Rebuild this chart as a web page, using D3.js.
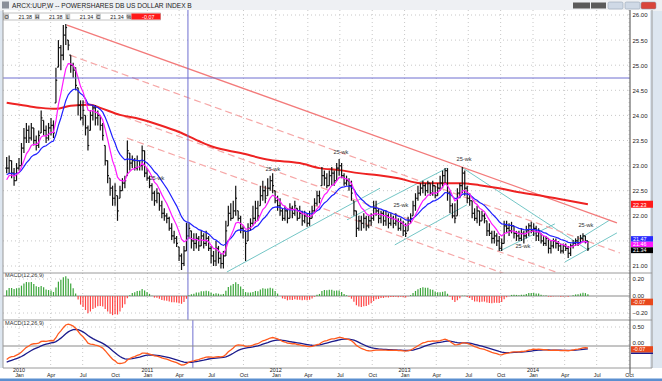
<!DOCTYPE html>
<html>
<head>
<meta charset="utf-8">
<script src="https://cdn.jsdelivr.net/npm/d3@7"></script>
<style>
  body { margin: 0; background: #fff; overflow: hidden; }
  svg { display: block; font-family: "Liberation Sans", Arial, sans-serif; }
</style>
</head>
<body>
<svg id="chart" width="662" height="381"></svg>
<script>
// weekly bars, first bar = week ending 27 Nov 2009
const startDate = new Date(2009, 10, 27);

const closes = [
  22.95, 23.10, 22.85, 22.70, 22.95, 23.00, 23.35, 23.55, 23.70, 23.55,
  23.75, 23.50, 23.40, 23.60, 23.95, 23.70, 23.55, 23.75, 23.80, 23.65,
  24.70, 25.35, 25.20, 25.60, 25.75, 25.40, 25.00, 24.90, 24.60, 24.20,
  23.95, 24.10, 23.75, 23.40, 24.00, 24.15, 23.95, 24.00, 23.80, 23.60,
  23.10, 22.80, 22.55, 22.35, 22.50, 22.10, 22.50, 22.65, 22.70, 23.30,
  23.05, 23.10, 22.95, 23.10, 23.00, 23.30, 22.85, 22.75, 22.60, 22.45,
  22.30, 22.45, 22.20, 22.05, 22.00, 21.95, 21.75, 21.60, 21.55, 21.45,
  21.20, 21.05, 21.30, 21.60, 21.75, 21.50, 21.45, 21.55, 21.40, 21.60,
  21.45, 21.55, 21.35, 21.20, 21.10, 21.35, 21.15, 21.05, 21.20, 21.70,
  22.05, 21.95, 22.10, 22.35, 21.95, 21.75, 21.70, 21.45, 21.75, 21.85,
  21.95, 22.15, 22.00, 22.40, 22.50, 22.35, 22.55, 22.70, 22.60, 22.30,
  22.20, 22.10, 21.95, 22.10, 21.95, 22.15, 22.05, 22.20, 21.95, 22.05,
  21.90, 22.00, 21.85, 21.95, 22.10, 22.25, 22.40, 22.35, 22.80, 22.75,
  22.60, 22.80, 22.85, 22.70, 22.95, 23.00, 22.80, 22.65, 22.70, 22.60,
  22.45, 22.10, 21.75, 21.90, 21.85, 21.95, 21.80, 21.90, 21.95, 22.15,
  22.10, 21.95, 22.05, 21.90, 22.00, 21.85, 21.95, 21.85, 21.90, 21.75,
  21.85, 21.70, 21.65, 21.90, 21.95, 22.20, 22.35, 22.45, 22.55, 22.60,
  22.50, 22.65, 22.45, 22.60, 22.40, 22.55, 22.65, 22.80, 22.90, 22.45,
  22.20, 22.00, 21.95, 22.45, 22.60, 22.85, 22.55, 22.35, 22.30, 22.05,
  21.95, 22.10, 21.90, 22.00, 21.95, 21.70, 21.65, 21.55, 21.60, 21.50,
  21.35, 21.45, 21.80, 21.75, 21.70, 21.80, 21.65, 21.60, 21.55, 21.65,
  21.60, 21.70, 21.80, 21.70, 21.75, 21.60, 21.70, 21.50, 21.45, 21.55,
  21.35, 21.40, 21.50, 21.45, 21.40, 21.30, 21.40, 21.35, 21.25, 21.40,
  21.45, 21.50, 21.45, 21.55, 21.60, 21.50, 21.34
];
const highs = [
  23.17, 23.20, 23.10, 22.95, 23.05, 23.15, 23.45, 23.75, 23.85, 23.80,
  23.85, 23.75, 23.60, 23.70, 24.10, 23.90, 23.80, 23.85, 23.95, 23.90,
  24.95, 25.50, 25.40, 25.80, 25.82, 25.50, 25.20, 25.05, 24.96, 24.55,
  24.30, 24.30, 24.00, 23.80, 24.10, 24.20, 24.20, 24.10, 24.00, 23.85,
  23.40, 23.10, 22.75, 22.60, 22.65, 22.40, 22.60, 22.75, 22.80, 23.50,
  23.25, 23.20, 23.15, 23.20, 23.10, 23.40, 23.30, 22.95, 22.80, 22.65,
  22.50, 22.55, 22.45, 22.30, 22.15, 22.05, 21.98, 21.85, 21.70, 21.60,
  21.38, 21.25, 21.40, 21.86, 21.85, 21.70, 21.65, 21.65, 21.60, 21.70,
  21.65, 21.70, 21.60, 21.40, 21.30, 21.50, 21.40, 21.25, 21.30, 21.90,
  22.20, 22.25, 22.30, 22.60, 22.10, 22.00, 21.80, 21.70, 21.85, 21.95,
  22.20, 22.30, 22.30, 22.60, 22.70, 22.60, 22.75, 22.80, 22.85, 22.50,
  22.40, 22.35, 22.15, 22.20, 22.15, 22.25, 22.20, 22.30, 22.15, 22.20,
  22.10, 22.10, 22.05, 22.10, 22.20, 22.35, 22.50, 22.50, 22.97, 22.90,
  22.85, 22.90, 22.97, 22.90, 23.05, 23.13, 23.05, 22.85, 22.80, 22.75,
  22.70, 22.30, 22.10, 22.00, 22.00, 22.05, 22.00, 22.00, 22.05, 22.30,
  22.30, 22.15, 22.10, 22.10, 22.10, 22.05, 22.05, 22.00, 22.05, 21.95,
  21.95, 21.90, 21.85, 21.98, 22.05, 22.30, 22.45, 22.60, 22.65, 22.70,
  22.65, 22.70, 22.65, 22.70, 22.60, 22.65, 22.80, 22.90, 22.95, 22.95,
  22.50, 22.25, 22.25, 22.55, 22.65, 22.97, 22.90, 22.60, 22.45, 22.30,
  22.15, 22.20, 22.10, 22.10, 22.05, 21.90, 21.85, 21.70, 21.70, 21.65,
  21.60, 21.55, 21.90, 21.90, 21.85, 21.88, 21.80, 21.70, 21.70, 21.75,
  21.70, 21.80, 21.85, 21.88, 21.85, 21.80, 21.75, 21.65, 21.60, 21.60,
  21.55, 21.50, 21.55, 21.55, 21.50, 21.45, 21.45, 21.45, 21.40, 21.45,
  21.52, 21.55, 21.60, 21.62, 21.65, 21.60, 21.50
];
const lows = [
  22.85, 22.85, 22.75, 22.60, 22.70, 22.90, 23.00, 23.25, 23.45, 23.45,
  23.50, 23.40, 23.30, 23.35, 23.65, 23.60, 23.45, 23.50, 23.60, 23.55,
  24.25, 24.96, 24.90, 25.10, 25.40, 25.30, 24.85, 24.75, 24.50, 24.00,
  23.90, 23.80, 23.60, 23.30, 23.70, 23.90, 23.80, 23.80, 23.70, 23.50,
  23.00, 22.65, 22.40, 22.20, 22.20, 21.90, 22.35, 22.50, 22.55, 22.80,
  22.90, 22.95, 22.90, 22.90, 22.90, 22.90, 22.77, 22.70, 22.55, 22.30,
  22.20, 22.25, 22.10, 21.95, 21.90, 21.85, 21.70, 21.52, 21.45, 21.38,
  21.10, 20.92, 21.00, 21.30, 21.55, 21.35, 21.30, 21.35, 21.30, 21.40,
  21.35, 21.40, 21.30, 21.05, 21.00, 21.00, 21.05, 20.95, 20.95, 21.20,
  21.80, 21.90, 21.95, 22.00, 21.90, 21.65, 21.55, 21.10, 21.50, 21.70,
  21.80, 21.85, 21.90, 22.20, 22.30, 22.25, 22.40, 22.50, 22.45, 22.25,
  22.10, 22.00, 21.90, 21.90, 21.85, 21.95, 21.95, 22.00, 21.90, 21.95,
  21.80, 21.85, 21.78, 21.80, 21.95, 22.05, 22.20, 22.25, 22.60, 22.60,
  22.55, 22.60, 22.60, 22.60, 22.70, 22.80, 22.75, 22.60, 22.60, 22.50,
  22.30, 22.00, 21.58, 21.70, 21.70, 21.75, 21.70, 21.75, 21.80, 21.90,
  22.00, 21.85, 21.85, 21.80, 21.80, 21.75, 21.80, 21.75, 21.80, 21.70,
  21.70, 21.60, 21.58, 21.70, 21.85, 22.00, 22.10, 22.30, 22.40, 22.45,
  22.40, 22.45, 22.40, 22.40, 22.35, 22.40, 22.50, 22.55, 22.65, 22.30,
  22.05, 21.95, 21.85, 22.00, 22.35, 22.45, 22.40, 22.25, 22.20, 21.95,
  21.90, 21.85, 21.80, 21.90, 21.85, 21.60, 21.60, 21.45, 21.45, 21.40,
  21.30, 21.30, 21.45, 21.65, 21.60, 21.65, 21.55, 21.50, 21.50, 21.50,
  21.45, 21.55, 21.60, 21.65, 21.60, 21.50, 21.50, 21.45, 21.40, 21.40,
  21.25, 21.25, 21.35, 21.35, 21.30, 21.25, 21.25, 21.30, 21.16, 21.20,
  21.35, 21.40, 21.40, 21.45, 21.50, 21.45, 21.30
];

// long (red) moving average: week index -> value
const longMaWeek  = [0, 8, 14, 20, 26, 34, 38, 46, 54, 62, 70, 78, 84, 95, 107,
                     119, 127, 135, 143, 151, 159, 168, 176, 184, 192, 200, 208, 216, 225, 236];
const longMaValue = [24.25, 24.19, 24.15, 24.13, 24.19, 24.21, 24.15, 24.01, 23.93, 23.81, 23.67,
                     23.49, 23.37, 23.25, 23.11, 23.05, 22.95, 22.91, 22.85, 22.81, 22.75, 22.65,
                     22.65, 22.65, 22.61, 22.55, 22.47, 22.41, 22.33, 22.23];

// indicator settings and starting states (history before the first bar)
const fastPeriod = 8, slowPeriod = 18;
const fastSeed = 22.65, slowSeed = 22.80;
const macdSeeds = { ema12: 22.76, ema26: 23.16, signal: -0.44 };

// trend lines drawn on the chart: [week, price] -> [week, price]
const solidLines  = [[[24.5, 25.80], [247.8, 21.86]]];
const dashedLines = [[[25.7, 25.20], [249, 21.26]],
                     [[31.0, 24.27], [249, 20.42]],
                     [[48.8, 23.55], [249, 20.02]]];
const cyanLines   = [[[89.4, 20.88], [151.6, 22.55]],
                     [[138.2, 21.92], [178.8, 22.95]],
                     [[157.6, 21.42], [186.9, 22.22]],
                     [[185.3, 22.95], [236.0, 21.32]],
                     [[200.3, 21.30], [222.6, 21.84]],
                     [[226.7, 21.08], [247.8, 21.66]],
                     [[229.9, 21.46], [245.0, 21.92]]];
const noteWeeks  = [61.0, 108.1, 135.7, 160.1, 185.7, 209.6, 235.2];
const notePrices = [22.71, 22.89, 23.23, 22.18, 23.09, 21.36, 21.78];
const noteText = "25-wk";

// crosshair
const crossWeek = 73.6, crossWeekLow = 75.6, crossPrice = 24.745;

// 21.50 sits behind the value tags on the reference, so it has no label
const priceTicks = [21, 22, 22.5, 23, 23.5, 24, 24.5, 25, 25.5, 26];
const priceGrid = d3.range(21, 26.001, 0.5);
const histTicks = [0.2, 0, -0.2];
const macdTicks = [0.5, 0];
const title = "ARCX:UUP,W -- POWERSHARES DB US DOLLAR INDEX B";
const infoLabels = ["O", "H", "L", "C", "%"];
const infoValues = ["21.38", "21.38", "21.34", "21.34", "-0.07"];
const histLabel = "-0.07", macdLabel = "-0.07";
const macdTitle = "MACD(12,26,9)";

// ---------------------------------------------------------------
const weekDate = w => new Date(startDate.getTime() + w * 7 * 864e5);
const dates = closes.map((c, i) => weekDate(i));
const opens = closes.map((c, i) => i === 0 ? c : Math.max(lows[i], Math.min(highs[i], closes[i - 1])));

function ema(values, n, seed) {
  const a = 2 / (n + 1);
  let e = seed;
  return values.map(v => (e = e + a * (v - e)));
}
const fastMa = ema(closes, fastPeriod, fastSeed);
const slowMa = ema(closes, slowPeriod, slowSeed);
const e12 = ema(closes, 12, macdSeeds.ema12);
const e26 = ema(closes, 26, macdSeeds.ema26);
const macd = e12.map((v, i) => v - e26[i]);
const signal = ema(macd, 9, macdSeeds.signal);
const hist = macd.map((v, i) => v - signal[i]);

const left = 3, right = 630;
const x = d3.scaleTime().domain([new Date(2010, 0, 1), new Date(2014, 0, 1)]).range([19, 533]);
const y = d3.scaleLinear().domain([21, 26]).range([266, 15]);
const yH = d3.scaleLinear().domain([-0.2, 0.2]).range([313, 279]);
const yM = d3.scaleLinear().domain([0, 0.5]).range([346, 327]);
const panels = [{ top: 10, bottom: 273 }, { top: 273, bottom: 320 }, { top: 320, bottom: 368 }];

const svg = d3.select("#chart");

// window chrome
svg.append("rect").attr("width", 662).attr("height", 381).attr("fill", "#dde6f0");
svg.append("rect").attr("x", 0).attr("y", 0).attr("width", 662).attr("height", 11).attr("fill", "#eef0f3");
svg.append("rect").attr("x", 2).attr("y", 1.5).attr("width", 7).attr("height", 7).attr("fill", "#8a8f99");
svg.append("text").attr("x", 12).attr("y", 8).attr("font-size", 6.6).attr("fill", "#222").text(title);
[[573, 17], [591, 15]].forEach(([bx, bw]) =>
  svg.append("rect").attr("x", bx).attr("y", 2.5).attr("width", bw).attr("height", 6).attr("fill", "#5a5a5a"));
[[608, "#cfd9e6"], [625, "#cfd9e6"], [641, "#d9453a"]].forEach(([bx, c]) =>
  svg.append("rect").attr("x", bx).attr("y", 2).attr("width", 15).attr("height", 7).attr("rx", 1.5)
    .attr("fill", c).attr("stroke", "#8899aa").attr("stroke-width", 0.5));

// plotting area
svg.append("rect").attr("x", left).attr("y", 10).attr("width", 650 - left).attr("height", 358).attr("fill", "#fff");
svg.append("rect").attr("x", 0).attr("y", 368).attr("width", 662).attr("height", 13).attr("fill", "#fff");
svg.append("rect").attr("x", 0).attr("y", 378.5).attr("width", 662).attr("height", 2.5).attr("fill", "#5b8fd0");

// grid
const quarters = d3.timeMonth.every(3).range(new Date(2010, 0, 1), new Date(2014, 10, 1));
const grid = svg.append("g").attr("stroke", "#c8c8c8").attr("stroke-dasharray", "1,3").attr("stroke-width", 1);
quarters.forEach(d => panels.forEach(p =>
  grid.append("line").attr("x1", x(d)).attr("x2", x(d)).attr("y1", p.top).attr("y2", p.bottom)));
priceGrid.forEach(t => grid.append("line").attr("x1", left).attr("x2", right).attr("y1", y(t)).attr("y2", y(t)));
histTicks.filter(t => t !== 0).forEach(t => grid.append("line").attr("x1", left).attr("x2", right).attr("y1", yH(t)).attr("y2", yH(t)));
grid.append("line").attr("x1", left).attr("x2", right).attr("y1", yM(0.5)).attr("y2", yM(0.5));

// clip for the price panel
svg.append("clipPath").attr("id", "pclip").append("rect")
  .attr("x", left).attr("y", 10).attr("width", right - left).attr("height", 263);
const pg = svg.append("g").attr("clip-path", "url(#pclip)");

const lineOf = pts => d3.line().x(p => x(weekDate(p[0]))).y(p => y(p[1]))(pts);

// trend lines
pg.selectAll(".cyan").data(cyanLines).join("path").attr("d", lineOf)
  .attr("stroke", "#74c6c6").attr("stroke-width", 1).attr("fill", "none");
pg.selectAll(".dash").data(dashedLines).join("path").attr("d", lineOf)
  .attr("stroke", "#f6a7a7").attr("stroke-width", 1.2).attr("stroke-dasharray", "7,4").attr("fill", "none");
pg.selectAll(".solid").data(solidLines).join("path").attr("d", lineOf)
  .attr("stroke", "#f37b7b").attr("stroke-width", 1.3).attr("fill", "none");

// long red MA
pg.append("path")
  .attr("d", d3.line().curve(d3.curveMonotoneX).x((w) => x(weekDate(w))).y((w, i) => y(longMaValue[i]))(longMaWeek))
  .attr("stroke", "#ee2222").attr("stroke-width", 2).attr("fill", "none");

// crosshair
svg.append("line").attr("x1", x(weekDate(crossWeek))).attr("x2", x(weekDate(crossWeek)))
  .attr("y1", 10).attr("y2", 320).attr("stroke", "#6f6fd0").attr("stroke-width", 1);
svg.append("line").attr("x1", x(weekDate(crossWeekLow))).attr("x2", x(weekDate(crossWeekLow)))
  .attr("y1", 320).attr("y2", 368).attr("stroke", "#6f6fd0").attr("stroke-width", 1);
svg.append("line").attr("x1", left).attr("x2", right).attr("y1", y(crossPrice)).attr("y2", y(crossPrice))
  .attr("stroke", "#6f6fd0").attr("stroke-width", 1);

// OHLC bars
const bars = pg.append("g").attr("stroke", "#111").attr("stroke-width", 1.2);
dates.forEach((d, i) => {
  const bx = x(d);
  bars.append("line").attr("x1", bx).attr("x2", bx).attr("y1", y(highs[i])).attr("y2", y(lows[i]));
  bars.append("line").attr("x1", bx - 1.3).attr("x2", bx).attr("y1", y(opens[i])).attr("y2", y(opens[i]));
  bars.append("line").attr("x1", bx).attr("x2", bx + 1.3).attr("y1", y(closes[i])).attr("y2", y(closes[i]));
});

// short MAs
const maLine = arr => d3.line().x((v, i) => x(dates[i])).y(v => y(v))(arr);
pg.append("path").attr("d", maLine(slowMa)).attr("stroke", "#1f1fff").attr("stroke-width", 1.2).attr("fill", "none");
pg.append("path").attr("d", maLine(fastMa)).attr("stroke", "#ff19ff").attr("stroke-width", 1.2).attr("fill", "none");

// notes
pg.selectAll(".note").data(noteWeeks).join("text")
  .attr("x", w => x(weekDate(w))).attr("y", (w, i) => y(notePrices[i]))
  .attr("text-anchor", "middle").attr("font-size", 5.6).attr("fill", "#333").text(noteText);

// info strip
const info = svg.append("g");
info.append("rect").attr("x", 3.5).attr("y", 13).attr("width", 157).attr("height", 7)
  .attr("fill", "#fff").attr("stroke", "#9a9a9a").attr("stroke-width", 0.6);
infoLabels.forEach((lab, k) => {
  const cx = 4 + k * 30.6;
  info.append("rect").attr("x", cx).attr("y", 13.5).attr("width", 5).attr("height", 6).attr("fill", "#c8c8c8");
  info.append("text").attr("x", cx + 2.5).attr("y", 18.6).attr("font-size", 5.4).attr("text-anchor", "middle")
    .attr("fill", "#222").text(lab);
  if (k === infoLabels.length - 1) {
    info.append("rect").attr("x", cx + 5).attr("y", 13.5).attr("width", 155.5 - cx).attr("height", 6).attr("fill", "#ff1a1a");
  }
  info.append("text").attr("x", cx + 28).attr("y", 18.6).attr("font-size", 5.4).attr("text-anchor", "end")
    .attr("fill", k === infoLabels.length - 1 ? "#fff" : "#222").text(infoValues[k]);
});

// MACD histogram
svg.append("line").attr("x1", left).attr("x2", right).attr("y1", yH(0)).attr("y2", yH(0)).attr("stroke", "#8a8a8a");
svg.append("g").selectAll("line").data(hist).join("line")
  .attr("x1", (v, i) => x(dates[i])).attr("x2", (v, i) => x(dates[i]))
  .attr("y1", yH(0)).attr("y2", v => yH(v))
  .attr("stroke", v => v >= 0 ? "#3aa53a" : "#ff4444").attr("stroke-width", 1.2);

// MACD lines
svg.append("line").attr("x1", left).attr("x2", right).attr("y1", yM(0)).attr("y2", yM(0)).attr("stroke", "#8a8a8a");
const mLine = arr => d3.line().x((v, i) => x(dates[i])).y(v => yM(v))(arr);
svg.append("path").attr("d", mLine(signal)).attr("stroke", "#1b1b8c").attr("stroke-width", 1.3).attr("fill", "none");
svg.append("path").attr("d", mLine(macd)).attr("stroke", "#ff5a1e").attr("stroke-width", 1.3).attr("fill", "none");

[277, 325].forEach(ty => svg.append("text").attr("x", 5).attr("y", ty).attr("font-size", 5.6)
  .attr("fill", "#333").text(macdTitle));

// panel frames
const frame = svg.append("g").attr("stroke", "#9a9a9a").attr("stroke-width", 1).attr("fill", "none");
frame.append("line").attr("x1", left).attr("x2", left).attr("y1", 10).attr("y2", 368);
[273, 320, 368].forEach(fy => frame.append("line").attr("x1", left).attr("x2", 652).attr("y1", fy).attr("y2", fy));
frame.append("line").attr("x1", 652).attr("x2", 652).attr("y1", 10).attr("y2", 368);
svg.append("line").attr("x1", right).attr("x2", right).attr("y1", 10).attr("y2", 374)
  .attr("stroke", "#666").attr("stroke-width", 1.2);

// right axes
function rightAxis(scale, ticks, fmt, shift) {
  const g = svg.append("g").attr("transform", `translate(${right},${shift || 0})`)
    .call(d3.axisRight(scale).tickValues(ticks).tickFormat(fmt).tickSize(0).tickPadding(2.5));
  g.select(".domain").remove();
  g.selectAll("text").attr("font-size", 6).attr("fill", "#222").attr("font-family", "Liberation Sans, Arial, sans-serif");
}
rightAxis(y, priceTicks, d3.format(".2f"));
rightAxis(yH, histTicks, d3.format(".2f"));
rightAxis(yM, [macdTicks[0]], d3.format(".2f"));
rightAxis(yM, [macdTicks[1]], d3.format(".2f"), -3.5);

function valueTag(top, h, text, fill, color) {
  svg.append("rect").attr("x", right + 1).attr("y", top).attr("width", 22).attr("height", h).attr("fill", fill);
  svg.append("text").attr("x", right + 3).attr("y", top + h - 1.2).attr("font-size", 5.4).attr("fill", color).text(text);
}
const last = closes.length - 1;
const f2 = d3.format(".2f");
const longLast = longMaValue[longMaValue.length - 1];
valueTag(y(longLast) - 3.5, 7, f2(longLast), "#ff1a1a", "#fff");
valueTag(y(closes[last]) - 12.8, 5.6, f2(slowMa[last]), "#2a2aff", "#fff");
valueTag(y(closes[last]) - 7.2, 5.6, f2(fastMa[last]), "#ff19ff", "#fff");
valueTag(y(closes[last]) - 1.6, 5.8, f2(closes[last]), "#000", "#fff");
valueTag(yH(-0.07) - 3.3, 6.6, histLabel, "#e8481c", "#fff");
valueTag(yM(0) + 0.2, 6.4, macdLabel, "#e8481c", "#fff");
svg.append("rect").attr("x", right + 1).attr("y", yM(0) + 6.6).attr("width", 22).attr("height", 1.4).attr("fill", "#1b1b8c");

// bottom axis
const xa = svg.append("g").attr("transform", "translate(0,373)")
  .call(d3.axisBottom(x).tickValues(quarters).tickFormat(d3.timeFormat("%b")).tickSize(0).tickPadding(0));
xa.select(".domain").remove();
xa.selectAll("text").attr("font-size", 5.4).attr("fill", "#222").attr("dy", "0.71em")
  .attr("font-family", "Liberation Sans, Arial, sans-serif");
svg.append("g").selectAll("text").data(quarters.filter(d => d.getMonth() === 0)).join("text")
  .attr("x", d => x(d)).attr("y", 372.3).attr("text-anchor", "middle").attr("font-size", 5.4).attr("fill", "#222")
  .text(d => d.getFullYear());
</script>
</body>
</html>
